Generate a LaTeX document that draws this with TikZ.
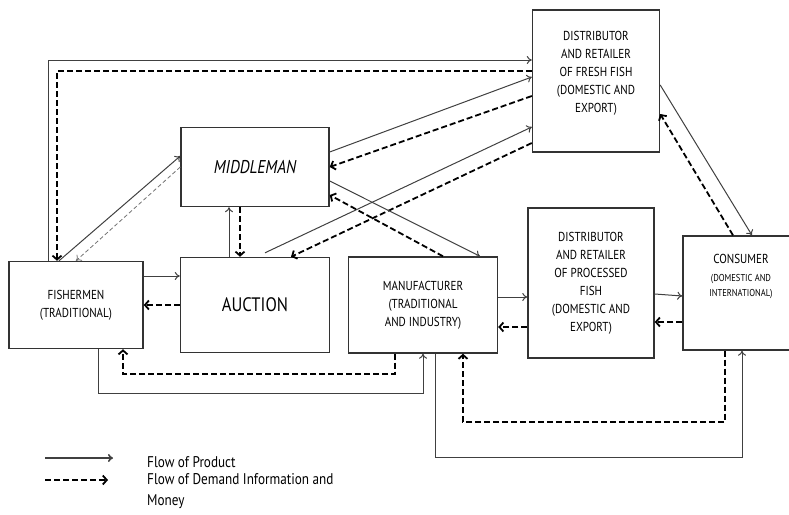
\documentclass[tikz,border=0pt]{standalone}
\usepackage{fontspec}
\setmainfont{PT Sans}[FakeStretch=0.85]
\usetikzlibrary{arrows.meta}
\tikzset{
	box/.style={draw=black!80, line width=1.4pt, align=center, inner sep=0pt, font=\fontsize{13}{18}\selectfont},
	prod/.style={draw=black!75, line width=1pt, -{To[length=5pt,width=8pt]}},
	info/.style={draw=black, line width=1.8pt, dash pattern=on 6pt off 3pt, -{Straight Barb[length=4pt,width=9pt]}},
	hint/.style={draw=black!55, line width=0.8pt, dash pattern=on 4pt off 2.5pt, -{To[length=5pt,width=8pt]}}
}
\begin{document}
\begin{tikzpicture}[x=1pt,y=-1pt]
			\useasboundingbox (0,0) rectangle (789,514);
			\clip (0,0) rectangle (789,514);
			\node	(fish) at (76,305) [box, minimum width=134, minimum height=87] {FISHERMEN\\(TRADITIONAL)};
			\node	(auction) at (255,305) [box, minimum width=149, minimum height=95, font=\fontsize{19.5}{20}\selectfont] {AUCTION};
			\node	(middle) at (255,167) [box, minimum width=148, minimum height=79, font=\fontsize{18.5}{20}\selectfont\itshape] {MIDDLEMAN};
			\node	(manu) at (423,305) [box, minimum width=149, minimum height=96] {MANUFACTURER\\(TRADITIONAL\\AND INDUSTRY)};
			\node	(proc) at (591,283) [box, minimum width=126, minimum height=150] {DISTRIBUTOR\\AND RETAILER\\OF PROCESSED\\FISH\\(DOMESTIC AND\\EXPORT)};
			\node	(fresh) at (596,81) [box, minimum width=127, minimum height=142] {DISTRIBUTOR\\AND RETAILER\\OF FRESH FISH\\(DOMESTIC AND\\EXPORT)\\\mbox{}};
			\node	(cons) at (741,293) [box, minimum width=116, minimum height=114] {CONSUMER\\{\fontsize{10}{15}\selectfont (DOMESTIC AND}\\[-3pt]{\fontsize{10}{15}\selectfont INTERNATIONAL)}\\[18pt]\mbox{}};
			% top loop
			\draw[prod] ([xshift=-28pt]fish.north) |- ([yshift=21pt]fresh.west);
			\draw[info] ([yshift=10pt]fresh.west) -| ([xshift=-19pt]fish.north);
			\draw 
			([xshift=-17pt]fish.north) edge[prod] ([yshift=11pt]middle.west)
			(middle.west) edge[hint] (fish.north)
			([xshift=-26pt]auction.north) edge[prod] ([xshift=-26pt]middle.south)
			([xshift=-15pt]middle.south) edge[info] ([xshift=-15pt]auction.north)
			([yshift=15pt]middle.east) edge[prod] ([yshift=4pt]fresh.west)
			([yshift=-15pt]fresh.west) edge[info] (middle.east)
			([xshift=10pt,yshift=4pt]auction.north) edge[prod] ([yshift=-46pt]fresh.west)
			([yshift=-62pt]fresh.west) edge[info] ([xshift=36pt]auction.north)
			([yshift=-14pt]middle.east) edge[prod] ([xshift=57pt]manu.north)
			([xshift=20pt]manu.north) edge[info] ([yshift=-28pt]middle.east)
			([yshift=-4pt]fresh.east) edge[prod] ([xshift=11pt]cons.north)
			([xshift=-8pt]cons.north) edge[info] ([yshift=-33pt]fresh.east)
			([yshift=29pt]fish.east) edge[prod] ([yshift=29pt]auction.west)
			(auction.west) edge[info] (fish.east)
			([yshift=8pt]manu.east) edge[prod] ([yshift=-14pt]proc.west)
			([yshift=-44pt]proc.west) edge[info] ([yshift=-22pt]manu.east)
			([yshift=-11pt]proc.east) edge[prod] ([yshift=-3pt]cons.west)
			([yshift=-29pt]cons.west) edge[info] ([yshift=-39pt]proc.east)
			;
			% bottom loops
			\draw[info] ([xshift=-28pt]manu.south) -- ++(0,20) -| ([xshift=47pt]fish.south);
			\draw[prod] ([xshift=22pt]fish.south) -- ++(0,44) -| (manu.south);
			\draw[info] ([xshift=-16pt]cons.south) -- ++(0,71) -| ([xshift=40pt]manu.south);
			\draw[prod] ([xshift=12pt]manu.south) -- ++(0,104) -| ([xshift=1pt]cons.south);
			% legend
			\coordinate (p1) at (45,458);
			\coordinate (p2) at (113,458);
			\coordinate (d1) at (45,480);
			\coordinate (d2) at (108,480);
			\draw[prod, line width=1.6pt] (p1) -- (p2);
			\draw[info] (d1) -- (d2);
			\node	(lprod) at (147,462) [anchor=west, inner sep=0pt, font=\fontsize{15.5}{21.5}\selectfont] {Flow of Product};
			\node	(linfo) at (147,473) [anchor=north west, inner sep=0pt, align=left, font=\fontsize{15.5}{21.5}\selectfont] {Flow of Demand Information and\\Money};
		\end{tikzpicture}
\end{document}
